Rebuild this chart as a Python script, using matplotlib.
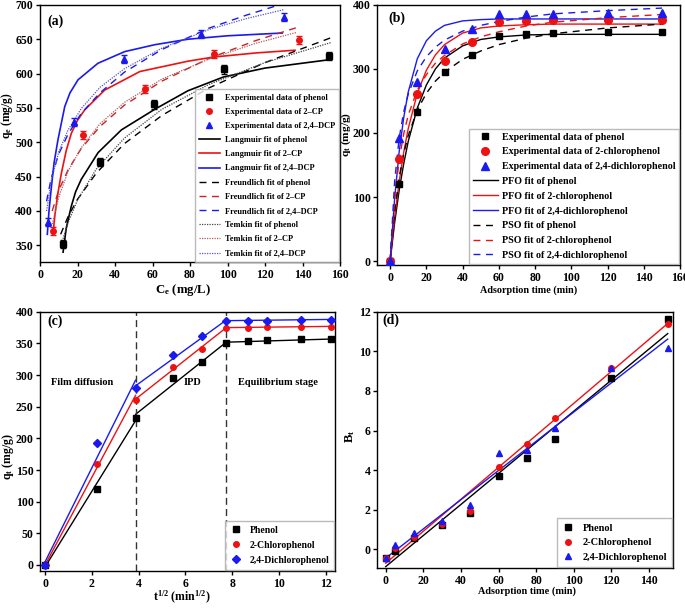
import matplotlib
matplotlib.use('Agg')
import matplotlib.pyplot as plt

plt.rcParams['font.family'] = ['Liberation Serif', 'DejaVu Serif']
plt.rcParams['font.weight'] = 'bold'
plt.rcParams['axes.labelweight'] = 'bold'
plt.rcParams['mathtext.default'] = 'regular'
plt.rcParams['xtick.labelsize'] = 8.5
plt.rcParams['ytick.labelsize'] = 8.5
plt.rcParams['axes.linewidth'] = 1.0

BLACK = '#000000'
RED = '#ee1111'
BLUE = '#1a1aee'

# ---- (a) isotherms ----
ce_phenol = [12, 32, 61, 98, 154]
qe_phenol = [352, 471, 555, 606, 626]
ce_cp = [7, 23, 56, 93, 138]
qe_cp = [371, 511, 578, 628, 649]
ce_dcp = [4, 18, 45, 86, 130]
qe_dcp = [384, 529, 621, 658, 682]
err_a = [6, 6, 6, 6, 6]

lang_phenol_c = [12.3, 14, 16.7, 19, 22, 31, 43.4, 61.2, 78.9, 97.8, 120, 153.8]
lang_phenol_q = [340, 375, 407, 428, 446, 485, 518, 548, 575, 595, 608, 620]
lang_cp_c = [6.9, 8, 9.5, 11.4, 14, 16.7, 20, 23.8, 34.5, 53.3, 78.9, 92.4, 115, 136]
lang_cp_q = [366, 395, 425, 455, 488, 513, 532, 547, 576, 603, 618, 624, 630, 634]
lang_dcp_c = [3.9, 4.8, 6, 7.5, 9.6, 13.2, 16, 20.3, 30.9, 45.2, 61.2, 78.9, 100, 129.2]
lang_dcp_q = [366, 400, 433, 470, 504, 552, 572, 591, 615, 632, 642, 650, 655, 659]

freu_phenol_c = [11, 15, 20, 30, 45, 65, 90, 120, 155]
freu_phenol_q = [366, 392, 417, 455, 498, 539, 579, 616, 652]
freu_cp_c = [6.5, 10, 15, 22, 32, 45, 65, 90, 115, 137]
freu_cp_q = [400, 430, 460, 491, 523, 554, 589, 622, 648, 667]
freu_dcp_c = [3.5, 6, 10, 15, 22, 32, 45, 65, 90, 110, 130]
freu_dcp_q = [414, 448, 483, 512, 542, 572, 602, 635, 666, 685, 702]

temk_phenol_c = [11, 15, 20, 30, 45, 65, 90, 120, 155]
temk_phenol_q = [349, 383, 416, 461, 506, 548, 584, 616, 645]
temk_cp_c = [6.5, 10, 15, 22, 32, 45, 65, 90, 115, 137]
temk_cp_q = [381, 420, 458, 492, 527, 558, 592, 621, 644, 660]
temk_dcp_c = [3.5, 6, 10, 15, 22, 32, 45, 65, 90, 110, 130]
temk_dcp_q = [400, 444, 486, 518, 549, 580, 607, 637, 664, 680, 693]

# ---- (b) kinetics ----
t_exp = [0, 5, 15, 30, 45, 60, 75, 90, 120, 150]
qt_phenol = [0, 120, 232, 295, 321, 351, 354, 356, 357, 357]
qt_cp = [0, 160, 261, 313, 342, 374, 375, 376, 376, 376]
qt_dcp = [0, 192, 280, 331, 362, 385, 385, 386, 387, 387]

t_fit = [0, 2.5, 5, 7.5, 10, 15, 20, 25, 30, 40, 50, 60, 75, 90, 120, 150]
pfo_phenol = [0, 60, 111, 152, 187, 239, 275, 300, 317, 336, 346, 350, 353, 354, 354, 354]
pfo_cp = [0, 69, 124, 170, 207, 262, 298, 322, 338, 356, 364, 367, 369, 370, 370, 370]
pfo_dcp = [0, 98, 171, 224, 264, 316, 344, 359, 368, 375, 377, 378, 378, 378, 378, 378]
pso_phenol = [0, 78, 131, 168, 196, 236, 262, 281, 295, 315, 328, 338, 348, 355, 364, 370]
pso_cp = [0, 98, 158, 199, 228, 267, 291, 309, 321, 339, 350, 358, 367, 373, 380, 385]
pso_dcp = [0, 125, 192, 233, 261, 297, 319, 334, 345, 359, 368, 374, 381, 386, 391, 395]

# ---- (c) intraparticle diffusion ----
sqrt_t = [0, 2.24, 3.87, 5.48, 6.71, 7.75, 8.66, 9.49, 10.95, 12.25]
ipd_x = [[0, 3.87], [3.87, 7.75], [7.75, 12.25]]
ipd_phenol = [[-3, 228], [238, 352], [352, 357]]
ipd_cp = [[0, 268], [262, 375], [375, 377]]
ipd_dcp = [[5, 292], [283, 387], [386, 388]]
stage_x = [3.87, 7.75]

# ---- (d) Boyd plot ----
bt_phenol = [-0.45, -0.07, 0.55, 1.23, 1.82, 3.70, 4.60, 5.56, 8.67, 11.62]
bt_cp = [-0.45, 0.05, 0.60, 1.28, 1.92, 4.14, 5.32, 6.65, 9.17, 11.38]
bt_dcp = [-0.42, 0.22, 0.81, 1.45, 2.24, 4.88, 5.02, 6.14, 9.17, 10.18]
boyd_t = [0, 150]
boyd_phenol = [-0.88, 10.9]
boyd_cp = [-0.71, 11.41]
boyd_dcp = [-0.45, 10.62]

fig = plt.figure(figsize=(6.85, 6.09), dpi=100)
ax_a = fig.add_axes([0.0584, 0.569, 0.438, 0.423])
ax_b = fig.add_axes([0.551, 0.565, 0.442, 0.427])
ax_c = fig.add_axes([0.059, 0.063, 0.430, 0.425])
ax_d = fig.add_axes([0.551, 0.067, 0.432, 0.421])

for ax in (ax_a, ax_b, ax_c, ax_d):
    ax.tick_params(direction='out', length=3, width=1, top=False, right=False, pad=2)


def panel_label(ax, txt, x, y):
    ax.text(x, y, txt, transform=ax.transAxes, fontsize=10, fontweight='bold', va='top')


# (a)
ax = ax_a
ax.plot(lang_phenol_c, lang_phenol_q, color=BLACK, lw=1.2, label='Langmuir fit of phenol')
ax.plot(lang_cp_c, lang_cp_q, color=RED, lw=1.2, label='Langmuir fit of 2\u2013CP')
ax.plot(lang_dcp_c, lang_dcp_q, color=BLUE, lw=1.2, label='Langmuir fit of 2,4\u2013DCP')
ax.plot(freu_phenol_c, freu_phenol_q, color=BLACK, lw=1.0, ls=(0, (5, 4)), label='Freundlich fit of phenol')
ax.plot(freu_cp_c, freu_cp_q, color='#cc2222', lw=1.0, ls=(0, (5, 4)), label='Freundlich fit of 2\u2013CP')
ax.plot(freu_dcp_c, freu_dcp_q, color=BLUE, lw=1.0, ls=(0, (5, 4)), label='Freundlich fit of 2,4\u2013DCP')
ax.plot(temk_phenol_c, temk_phenol_q, color='#444444', lw=0.9, ls=(0, (1, 1)), label='Temkin fit of phenol')
ax.plot(temk_cp_c, temk_cp_q, color='#b55a5a', lw=0.9, ls=(0, (1, 1)), label='Temkin fit of 2\u2013CP')
ax.plot(temk_dcp_c, temk_dcp_q, color='#5555cc', lw=0.9, ls=(0, (1, 1)), label='Temkin fit of 2,4\u2013DCP')
ax.errorbar(ce_phenol, qe_phenol, yerr=err_a, fmt='s', color=BLACK, ms=4, capsize=2.5, elinewidth=1, zorder=5)
ax.errorbar(ce_cp, qe_cp, yerr=err_a, fmt='o', color=RED, ms=4, capsize=2.5, elinewidth=1, zorder=5)
ax.errorbar(ce_dcp, qe_dcp, yerr=err_a, fmt='^', color=BLUE, ms=4.5, capsize=2.5, elinewidth=1, zorder=5)
ax.plot([], [], 's', color=BLACK, ms=4, label='Experimental data of phenol')
ax.plot([], [], 'o', color=RED, ms=4, label='Experimental data of 2\u2013CP')
ax.plot([], [], '^', color=BLUE, ms=4.5, label='Experimental data of 2,4\u2013DCP')
handles, labels = ax.get_legend_handles_labels()
order = [9, 10, 11, 0, 1, 2, 3, 4, 5, 6, 7, 8]
ax.legend([handles[i] for i in order], [labels[i] for i in order], loc='lower right',
          fontsize=6.0, frameon=True, fancybox=False, edgecolor='#aaaaaa', borderaxespad=0.1,
          labelspacing=0.74, handlelength=2.5, handletextpad=0.6, borderpad=0.5)
ax.set_xlim(0, 160)
ax.set_ylim(325, 700)
ax.set_xticks(range(0, 161, 20))
ax.set_yticks(range(350, 701, 50))
ax.set_xlabel('C$_e$ (mg/L)', fontsize=9.2)
ax.set_ylabel('q$_e$ (mg/g)', fontsize=8.4)
ax.xaxis.set_label_coords(0.477, -0.075)
ax.yaxis.set_label_coords(-0.083, 0.57)
panel_label(ax, '(a)', 0.023, 0.962)

# (b)
ax = ax_b
ax.plot(t_fit, pfo_phenol, color=BLACK, lw=1.0, label='PFO fit of phenol')
ax.plot(t_fit, pfo_cp, color=RED, lw=1.0, label='PFO fit of 2-chlorophenol')
ax.plot(t_fit, pfo_dcp, color=BLUE, lw=1.0, label='PFO fit of 2,4-dichlorophenol')
ax.plot(t_fit, pso_phenol, color=BLACK, lw=1.0, ls=(0, (5, 4)), label='PSO fit of phenol')
ax.plot(t_fit, pso_cp, color=RED, lw=1.0, ls=(0, (5, 4)), label='PSO fit of 2-chlorophenol')
ax.plot(t_fit, pso_dcp, color=BLUE, lw=1.0, ls=(0, (5, 4)), label='PSO fit of 2,4-dichlorophenol')
ax.plot(t_exp, qt_phenol, 's', color=BLACK, ms=5, zorder=5, label='Experimental data of phenol')
ax.plot(t_exp, qt_cp, 'o', color=RED, ms=5.5, zorder=5, label='Experimental data of 2-chlorophenol')
ax.plot(t_exp, qt_dcp, '^', color=BLUE, ms=6, zorder=5, label='Experimental data of 2,4-dichlorophenol')
handles, labels = ax.get_legend_handles_labels()
order = [6, 7, 8, 0, 1, 2, 3, 4, 5]
ax.legend([handles[i] for i in order], [labels[i] for i in order], loc='lower right',
          fontsize=7.2, frameon=True, fancybox=False, edgecolor='#aaaaaa', borderaxespad=0.1,
          labelspacing=0.58, handlelength=2.5, handletextpad=0.4, borderpad=0.4)
ax.set_xlim(-7, 160)
ax.set_ylim(-6, 400)
ax.set_xticks(range(0, 161, 20))
ax.set_yticks(range(0, 401, 100))
ax.set_xlabel('Adsorption time (min)', fontsize=7.3)
ax.set_ylabel('q$_t$ (mg/g)', fontsize=8.2)
ax.xaxis.set_label_coords(0.5, -0.08)
ax.yaxis.set_label_coords(-0.08, 0.5)
panel_label(ax, '(b)', 0.035, 0.974)

# (c)
ax = ax_c
for xs, yp, yc, yd in zip(ipd_x, ipd_phenol, ipd_cp, ipd_dcp):
    ax.plot(xs, yp, color=BLACK, lw=1.0)
    ax.plot(xs, yc, color=RED, lw=1.0)
    ax.plot(xs, yd, color=BLUE, lw=1.0)
for xv in stage_x:
    ax.axvline(xv, color='#333333', lw=1.0, ls=(0, (5, 3)))
ax.plot(sqrt_t, qt_phenol, 's', color=BLACK, ms=4, zorder=5, label='Phenol')
ax.plot(sqrt_t, qt_cp, 'o', color=RED, ms=4, zorder=5, label='2-Chlorophenol')
ax.plot(sqrt_t, qt_dcp, 'D', color=BLUE, ms=4, zorder=5, label='2,4-Dichlorophenol')
ax.legend(loc='lower right', fontsize=7.0, frameon=True, fancybox=False, edgecolor='#aaaaaa',
          borderaxespad=0.1, labelspacing=0.62, handlelength=1.2, handletextpad=0.8, borderpad=0.5)
ax.text(1.58, 289, 'Film diffusion', fontsize=7.5, fontweight='bold', ha='center', va='center')
ax.text(6.3, 289, 'IPD', fontsize=7.5, fontweight='bold', ha='center', va='center')
ax.text(9.97, 289, 'Equilibrium stage', fontsize=7.5, fontweight='bold', ha='center', va='center')
ax.set_xlim(-0.2, 12.4)
ax.set_ylim(-9, 400)
ax.set_xticks(range(0, 13, 2))
ax.set_yticks(range(0, 401, 50))
ax.set_xlabel('t$^{1/2}$ (min$^{1/2}$)', fontsize=8.5)
ax.set_ylabel('q$_t$ (mg/g)', fontsize=8.5)
ax.xaxis.set_label_coords(0.48, -0.072)
ax.yaxis.set_label_coords(-0.082, 0.44)
panel_label(ax, '(c)', 0.025, 0.99)

# (d)
ax = ax_d
ax.plot(boyd_t, boyd_phenol, color=BLACK, lw=1.0)
ax.plot(boyd_t, boyd_cp, color=RED, lw=1.0)
ax.plot(boyd_t, boyd_dcp, color=BLUE, lw=1.0)
ax.plot(t_exp, bt_phenol, 's', color=BLACK, ms=4, zorder=5, label='Phenol')
ax.plot(t_exp, bt_cp, 'o', color=RED, ms=4, zorder=5, label='2-Chlorophenol')
ax.plot(t_exp, bt_dcp, '^', color=BLUE, ms=4.5, zorder=5, label='2,4-Dichlorophenol')
ax.legend(loc='lower right', fontsize=7.5, frameon=True, fancybox=False, edgecolor='#aaaaaa',
          borderaxespad=0.1, labelspacing=0.5, handlelength=1.2, handletextpad=0.8, borderpad=0.5)
ax.set_xlim(-4.4, 153)
ax.set_ylim(-0.96, 12)
ax.set_xticks(range(0, 141, 20))
ax.set_yticks(range(0, 13, 2))
ax.set_xlabel('Adsorption time (min)', fontsize=7.4)
ax.set_ylabel('B$_t$', fontsize=9)
ax.xaxis.set_label_coords(0.505, -0.072)
ax.yaxis.set_label_coords(-0.07, 0.515)
panel_label(ax, '(d)', 0.018, 0.994)

fig.savefig('out.png', dpi=100)
